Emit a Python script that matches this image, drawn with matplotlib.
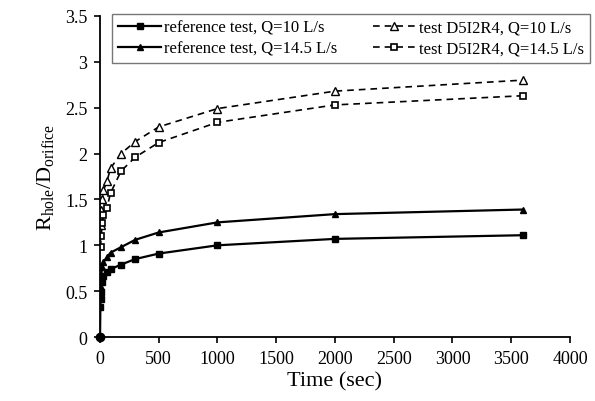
import matplotlib
matplotlib.use("Agg")
import matplotlib.pyplot as plt

plt.rcParams['font.family'] = ['Liberation Serif', 'DejaVu Serif']
plt.rcParams['mathtext.fontset'] = 'custom'
plt.rcParams['mathtext.rm'] = 'Liberation Serif'

# reference tests (solid lines)
t_ref = [0, 2, 5, 10, 20, 30, 60, 90, 180, 300, 500, 1000, 2000, 3600]
ref_q10 = [0, 0.33, 0.41, 0.49, 0.60, 0.67, 0.71, 0.74, 0.79, 0.85, 0.91, 1.00, 1.07, 1.11]
ref_q145 = [0, 0.45, 0.55, 0.68, 0.76, 0.82, 0.87, 0.92, 0.98, 1.06, 1.14, 1.25, 1.34, 1.39]

# test D5I2R4 (dashed lines)
t_test = [5, 10, 20, 30, 60, 90, 180, 300, 500, 1000, 2000, 3600]
test_q10 = [1.22, 1.38, 1.50, 1.60, 1.70, 1.84, 2.00, 2.13, 2.29, 2.49, 2.68, 2.80]
test_q145 = [0.98, 1.10, 1.24, 1.33, 1.41, 1.57, 1.81, 1.96, 2.12, 2.34, 2.53, 2.63]

fig = plt.figure(figsize=(5.95, 4.02), dpi=100)
ax = fig.add_axes([0.168, 0.159, 0.790, 0.799])

l1, = ax.plot(t_ref, ref_q10, '-', color='black', lw=1.6, marker='s', ms=4.5,
              label='reference test, Q=10 L/s')
l2, = ax.plot(t_ref, ref_q145, '-', color='black', lw=1.6, marker='^', ms=5,
              label='reference test, Q=14.5 L/s')
l3, = ax.plot(t_test, test_q10, '--', color='black', lw=1.2, marker='^', ms=6,
              mfc='white', mec='black', mew=1.0, dashes=(4, 3),
              label='test D5I2R4, Q=10 L/s')
l4, = ax.plot(t_test, test_q145, '--', color='black', lw=1.2, marker='s', ms=5,
              mfc='white', mec='black', mew=1.2, dashes=(4, 3),
              label='test D5I2R4, Q=14.5 L/s')
ax.plot([0], [0], 'o', color='black', ms=6, clip_on=False, zorder=5)

ax.set_xlim(0, 4000)
ax.set_ylim(0, 3.5)
ax.set_xticks(range(0, 4001, 500))
ax.set_yticks([0, 0.5, 1, 1.5, 2, 2.5, 3, 3.5])
ax.set_yticklabels(['0', '0.5', '1', '1.5', '2', '2.5', '3', '3.5'])
ax.spines['top'].set_visible(False)
ax.spines['right'].set_visible(False)
for s in ['left', 'bottom']:
    ax.spines[s].set_linewidth(1.3)
ax.tick_params(direction='out', length=4, width=1.2, labelsize=13, pad=5)

ax.set_xlabel('Time (sec)', fontsize=16, labelpad=3)
ax.set_ylabel(r'R$_{\mathregular{hole}}$/D$_{\mathregular{orifice}}$', fontsize=16, labelpad=6)

leg = fig.legend(handles=[l1, l2, l3, l4], ncol=2, loc='upper left',
                 bbox_to_anchor=(112 / 595, 1 - 15 / 402), borderaxespad=0,
                 frameon=True, fancybox=False, edgecolor='#555555', fontsize=12,
                 handlelength=2.6, handletextpad=0.2, columnspacing=2.1,
                 labelspacing=0.3, borderpad=0.35)
leg.get_frame().set_linewidth(1.0)

fig.savefig('out.png', dpi=100)
